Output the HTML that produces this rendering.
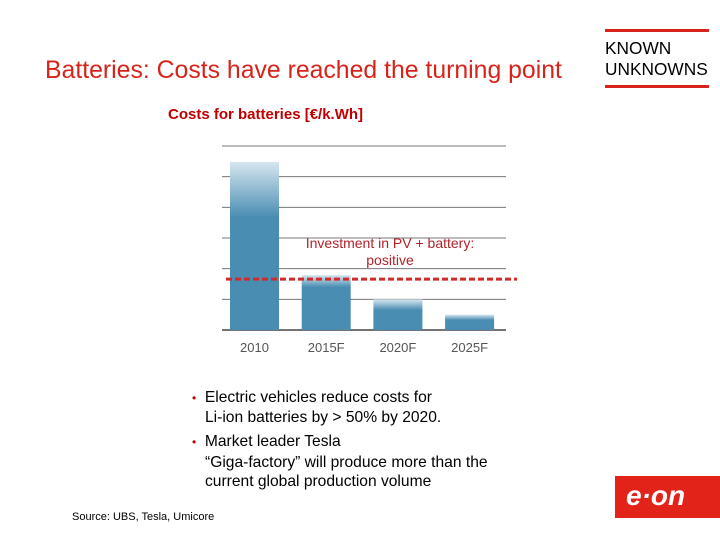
<!DOCTYPE html>
<html><head><meta charset="utf-8"><style>
body{margin:0;width:720px;height:540px;background:#fff;position:relative;overflow:hidden;font-family:"Liberation Sans",sans-serif}
.a{position:absolute;white-space:nowrap}
</style></head><body>
<div class="a" style="left:45px;top:57px;font-size:24.8px;color:#d8231a">Batteries: Costs have reached the turning point</div>
<div class="a" style="left:605px;top:29px;width:104px;height:3px;background:#d8231a"></div>
<div class="a" style="left:605px;top:38px;font-size:17.3px;line-height:21px;color:#000">KNOWN<br>UNKNOWNS</div>
<div class="a" style="left:605px;top:85px;width:104px;height:3px;background:#d8231a"></div>
<div class="a" style="left:168px;top:106px;font-size:15px;font-weight:bold;color:#c00000">Costs for batteries [€/k.Wh]</div>
<svg class="a" id="chart" style="left:0;top:0" width="720" height="540"></svg>
<div class="a" style="left:192px;top:388px;font-size:15.6px;line-height:19px;color:#000"><span style="color:#c00000;font-size:12px">•</span>&nbsp; Electric vehicles reduce costs for<br>&nbsp;&nbsp;&nbsp;Li-ion batteries by &gt; 50% by 2020.</div>
<div class="a" style="left:192px;top:432px;font-size:15.6px;line-height:19.5px;color:#000"><span style="color:#c00000;font-size:12px">•</span>&nbsp; Market leader Tesla<br>&nbsp;&nbsp;&nbsp;“Giga-factory” will produce more than the<br>&nbsp;&nbsp;&nbsp;current global production volume</div>
<div class="a" style="left:72px;top:511px;font-size:11px;color:#000">Source: UBS, Tesla, Umicore</div>
<div class="a" style="left:615px;top:476px;width:105px;height:42px;background:#e2231a;color:#fff;font-size:28px;font-weight:bold;font-style:italic;line-height:40px;text-indent:11px">e·on</div>
<script>
const categories=["2010","2015F","2020F","2025F"];
const values=[5.48,1.79,1.0,0.5];
const threshold=1.66;
const yTicks=[0,1,2,3,4,5,6];
const svg=document.getElementById('chart');
const NS='http://www.w3.org/2000/svg';
const y0=330,unit=30.67,x0=222,x1=506;
const y=v=>y0-v*unit;
const xb=i=>230+i*71.7;
function mk(t,a){const e=document.createElementNS(NS,t);for(const k in a)e.setAttribute(k,a[k]);svg.appendChild(e);return e;}
const defs=mk('defs',{});
yTicks.forEach(t=>{
 const l=mk('line',{x1:x0,x2:x1,y1:y(t),y2:y(t),stroke:t===0?'#222':'#777','stroke-width':t===0?1.2:1});
 
 
});
values.forEach((v,i)=>{
 const g=document.createElementNS(NS,'linearGradient');
 g.setAttribute('id','g'+i);g.setAttribute('x1','0');g.setAttribute('x2','0');g.setAttribute('y1','0');g.setAttribute('y2','1');
 const h=v*unit,fade=i===0?0.33:Math.min(0.35,12/h);
 g.innerHTML='<stop offset="0" stop-color="#d6e6ef"/><stop offset="'+fade+'" stop-color="#4a8db3"/><stop offset="1" stop-color="#4a8db3"/>';
 defs.appendChild(g);
 const r=mk('rect',{x:xb(i),y:y(v),width:49,height:h,fill:'url(#g'+i+')'});
 
 
 const t=mk('text',{x:xb(i)+24.5,y:352,'text-anchor':'middle','font-size':13,fill:'#555','font-family':'Liberation Sans, sans-serif'});
 t.textContent=categories[i];
 
 
});
const d=mk('line',{x1:226,x2:517,y1:y(threshold),y2:y(threshold),stroke:'#d02a2a','stroke-width':3,'stroke-dasharray':'6,3'});


['Investment in PV + battery:','positive'].forEach((s,i)=>{
 const t=mk('text',{x:390,y:248+i*17,'text-anchor':'middle','font-size':14,fill:'#b0222a','font-family':'Liberation Sans, sans-serif'});
 t.textContent=s;
 
 
});
</script>
</body></html>
